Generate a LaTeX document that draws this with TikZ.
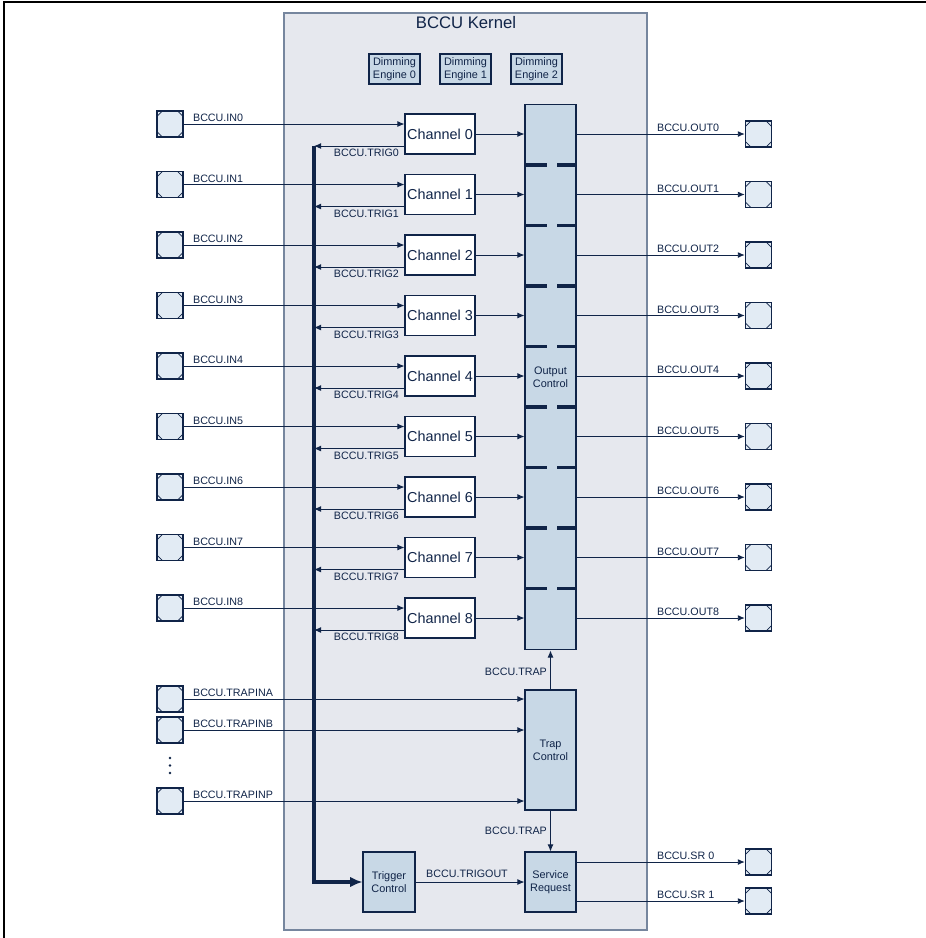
\documentclass[tikz,border=0pt]{standalone}
\usepackage{fontspec}
\setmainfont{Liberation Sans}
\usetikzlibrary{arrows.meta,calc}

\definecolor{navy}{RGB}{16,36,72}
\definecolor{kernfill}{RGB}{230,232,238}
\definecolor{kernline}{RGB}{118,134,158}
\definecolor{blkfill}{RGB}{200,216,230}
\definecolor{pinfill}{RGB}{226,235,244}

\tikzset{
  lbl/.style={text=navy, font=\fontsize{6.1}{7}\selectfont, inner sep=1pt},
  blk/.style={draw=navy, fill=blkfill, line width=0.6pt, text=navy,
    font=\fontsize{6.2}{7.6}\selectfont, align=center, inner sep=0pt},
  chan/.style={draw=navy, fill=white, line width=0.6pt, minimum width=1.4cm,
    minimum height=0.8cm, text=navy, font=\fontsize{8.2}{9}\selectfont, inner sep=0pt},
  pinbox/.style={draw=navy, fill=pinfill, line width=0.8pt, minimum size=0.52cm,
    inner sep=0pt, path picture={
      \draw[navy, line width=0.4pt]
        ([xshift=3pt]path picture bounding box.north west) -- ([yshift=-3pt]path picture bounding box.north west)
        ([xshift=-3pt]path picture bounding box.north east) -- ([yshift=-3pt]path picture bounding box.north east)
        ([xshift=3pt]path picture bounding box.south west) -- ([yshift=3pt]path picture bounding box.south west)
        ([xshift=-3pt]path picture bounding box.south east) -- ([yshift=3pt]path picture bounding box.south east);}},
  sig/.style={draw=navy, line width=0.55pt, -{Latex[length=4pt,width=3.4pt]}},
  bus/.style={draw=navy, line width=1.8pt, -{Latex[length=7pt,width=6pt]}},
  sep/.style={draw=navy, line width=1.8pt}
}

\begin{document}
\begin{tikzpicture}[x=0.02cm, y=-0.02cm]
  \useasboundingbox (0,0) rectangle (926,938);
  \draw[black, line width=0.8pt] (4,938) -- (4,2) -- (926,2);

  % kernel frame
  \draw[kernline, fill=kernfill, line width=0.6pt] (284,13) rectangle (647,930);
  \node[text=navy, font=\fontsize{9.5}{11}\selectfont] (title) at (466,22.5) {BCCU Kernel};

  \node[blk, minimum width=1.02cm, minimum height=0.6cm] (de0) at (394.5,69) {Dimming\\Engine 0};
  \node[blk, minimum width=1.02cm, minimum height=0.6cm] (de1) at (465.5,69) {Dimming\\Engine 1};
  \node[blk, minimum width=1.02cm, minimum height=0.6cm] (de2) at (536.5,69) {Dimming\\Engine 2};

  % output control with separators
  \node[blk, minimum width=1.02cm, minimum height=10.92cm] (oc) at (550.5,377) {Output\\Control};
  \foreach \i in {0,...,7}{
    \pgfmathsetmacro{\ys}{165+60.5*\i}
    \draw[sep] (526,\ys) -- (547,\ys);
    \draw[sep] (557,\ys) -- (576,\ys);
  }

  % channels
  \foreach \i in {0,...,8}{
    \pgfmathsetmacro{\yc}{134+60.5*\i}
    \node[chan] (ch\i) at (440,\yc) {Channel \i};
    \node[pinbox] (in\i) at (170,\yc-10) {};
    \node[pinbox] (out\i) at (758.5,\yc) {};
    \coordinate (bus\i) at (314,\yc+12);
    \draw[sig] (in\i) -- (in\i -| ch\i.west);
    \node[lbl, anchor=south west] at (191,\yc-10) {BCCU.IN\i};
    \draw[sig] (ch\i.west |- bus\i) -- (bus\i);
    \node[lbl, anchor=north east] at (401,\yc+13) {BCCU.TRIG\i};
    \draw[sig] (ch\i) -- (ch\i -| oc.west);
    \draw[sig] (ch\i -| oc.east) -- (out\i);
    \node[lbl, anchor=south west] at (655,\yc) {BCCU.OUT\i};
  }

  % trap path
  \node[blk, minimum width=1.02cm, minimum height=2.4cm] (trap) at (550.5,750) {Trap\\Control};
  \node[blk, minimum width=1.02cm, minimum height=1.2cm] (sr) at (550.5,882) {Service\\Request};
  \node[blk, minimum width=1.04cm, minimum height=1.2cm] (tc) at (389,882) {Trigger\\Control};

  \node[pinbox] (trpa) at (170,699) {};
  \node[pinbox] (trpb) at (170,730) {};
  \node[pinbox] (trpp) at (170,801) {};
  \foreach \yd in {758,765.5,773}
    \fill[navy] (170,\yd) circle (0.8pt);
  \draw[sig] (trpa) -- (trpa -| trap.west);
  \draw[sig] (trpb) -- (trpb -| trap.west);
  \draw[sig] (trpp) -- (trpp -| trap.west);
  \node[lbl, anchor=south west] at (191,699) {BCCU.TRAPINA};
  \node[lbl, anchor=south west] at (191,730) {BCCU.TRAPINB};
  \node[lbl, anchor=south west] at (191,801) {BCCU.TRAPINP};

  \draw[sig] (trap.north) -- (oc.south);
  \node[lbl, anchor=east] at (549,672) {BCCU.TRAP};
  \draw[sig] (trap.south) -- (sr.north);
  \node[lbl, anchor=east] at (549,831) {BCCU.TRAP};

  \draw[sig] (tc) -- (sr);
  \node[lbl, anchor=south] at (467,880) {BCCU.TRIGOUT};

  \node[pinbox] (sr0) at (758.5,862) {};
  \node[pinbox] (sr1) at (758.5,901) {};
  \draw[sig] (sr.east |- sr0) -- (sr0);
  \draw[sig] (sr.east |- sr1) -- (sr1);
  \node[lbl, anchor=south west] at (655,862) {BCCU.SR 0};
  \node[lbl, anchor=south west] at (655,901) {BCCU.SR 1};

  % trigger bus
  \draw[bus] (bus0) -- (bus0 |- tc.west) -- (tc.west);
\end{tikzpicture}
\end{document}
